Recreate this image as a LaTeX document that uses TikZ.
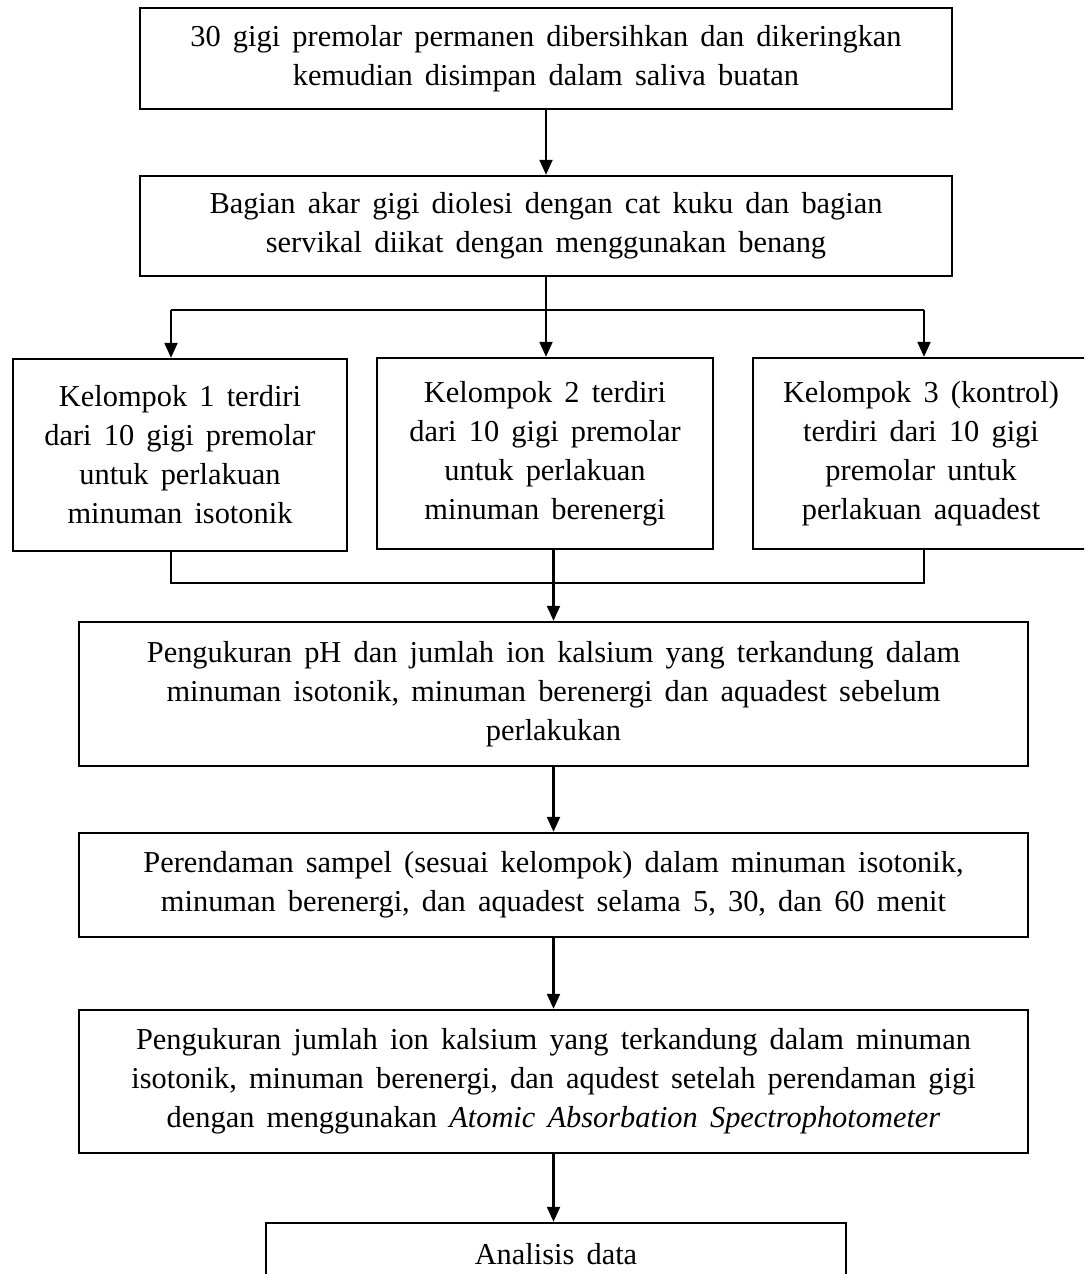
\documentclass[tikz,border=0pt]{standalone}
\usepackage{fontspec}
\setmainfont{Liberation Serif}[WordSpace=1.6]
\usetikzlibrary{arrows.meta}
\begin{document}
\begin{tikzpicture}[x=0.5pt,y=-0.5pt,
  box/.style={draw, line width=1.2pt, inner sep=0pt, align=center,
    font=\fontsize{15.2}{19.5}\selectfont},
  conn/.style={line width=1.1pt},
  arr/.style={line width=1.1pt, -{Triangle[length=7.5pt,width=6.5pt]}},
]
\useasboundingbox (0,0) rectangle (1084,1274);
\clip (0,0) rectangle (1084,1274);
\fill[white] (0,0) rectangle (1084,1274);

\node[box, minimum width=406pt, minimum height=50.5pt] (b1) at (546,58.5)
  {30 gigi premolar permanen dibersihkan dan dikeringkan\\kemudian disimpan dalam saliva buatan};
\node[box, minimum width=406pt, minimum height=50pt] (b2) at (546,226)
  {Bagian akar gigi diolesi dengan cat kuku dan bagian\\servikal diikat dengan menggunakan benang};

\node[box, minimum width=167pt, minimum height=96pt] (k1) at (180,455)
  {Kelompok 1 terdiri\\dari 10 gigi premolar\\untuk perlakuan\\minuman isotonik};
\node[box, minimum width=168pt, minimum height=95.5pt] (k2) at (545,453.5)
  {Kelompok 2 terdiri\\dari 10 gigi premolar\\untuk perlakuan\\minuman berenergi};
\node[box, minimum width=168pt, minimum height=95.5pt] (k3) at (921,453.5)
  {Kelompok 3 (kontrol)\\terdiri dari 10 gigi\\premolar untuk\\perlakuan aquadest};

\node[box, minimum width=474.5pt, minimum height=72pt] (b4) at (553.5,694)
  {Pengukuran pH dan jumlah ion kalsium yang terkandung dalam\\minuman isotonik, minuman berenergi dan aquadest sebelum\\perlakukan};
\node[box, minimum width=474.5pt, minimum height=52pt] (b5) at (553.5,885)
  {Perendaman sampel (sesuai kelompok) dalam minuman isotonik,\\minuman berenergi, dan aquadest selama 5, 30, dan 60 menit};
\node[box, minimum width=474.5pt, minimum height=71.5pt] (b6) at (553.5,1081.5)
  {Pengukuran jumlah ion kalsium yang terkandung dalam minuman\\isotonik, minuman berenergi, dan aqudest setelah perendaman gigi\\dengan menggunakan \textit{Atomic Absorbation Spectrophotometer}};
\node[box, minimum width=290pt, minimum height=31pt] (b7) at (556,1254)
  {Analisis data};

% connectors
\draw[arr] (b1) -- (b2);
\coordinate (sl) at (171,310);
\coordinate (sr) at (924,310);
\draw[conn] (b2.south) -- (b2.south |- sl);
\draw[conn] (sl) -- (sr);
\draw[arr] (sl) -- (sl |- k1.north);
\draw[arr] (b2.south |- sl) -- (b2.south |- k2.north);
\draw[arr] (sr) -- (sr |- k3.north);

\coordinate (ml) at (171,583);
\coordinate (mr) at (924,583);
\draw[conn] (ml |- k1.south) -- (ml) -- (mr) -- (mr |- k3.south);
\draw[arr] (b4.north |- k2.south) -- (b4.north);
\draw[arr] (b4) -- (b5);
\draw[arr] (b5) -- (b6);
\draw[arr] (b6.south) -- (b6.south |- b7.north);
\end{tikzpicture}
\end{document}
